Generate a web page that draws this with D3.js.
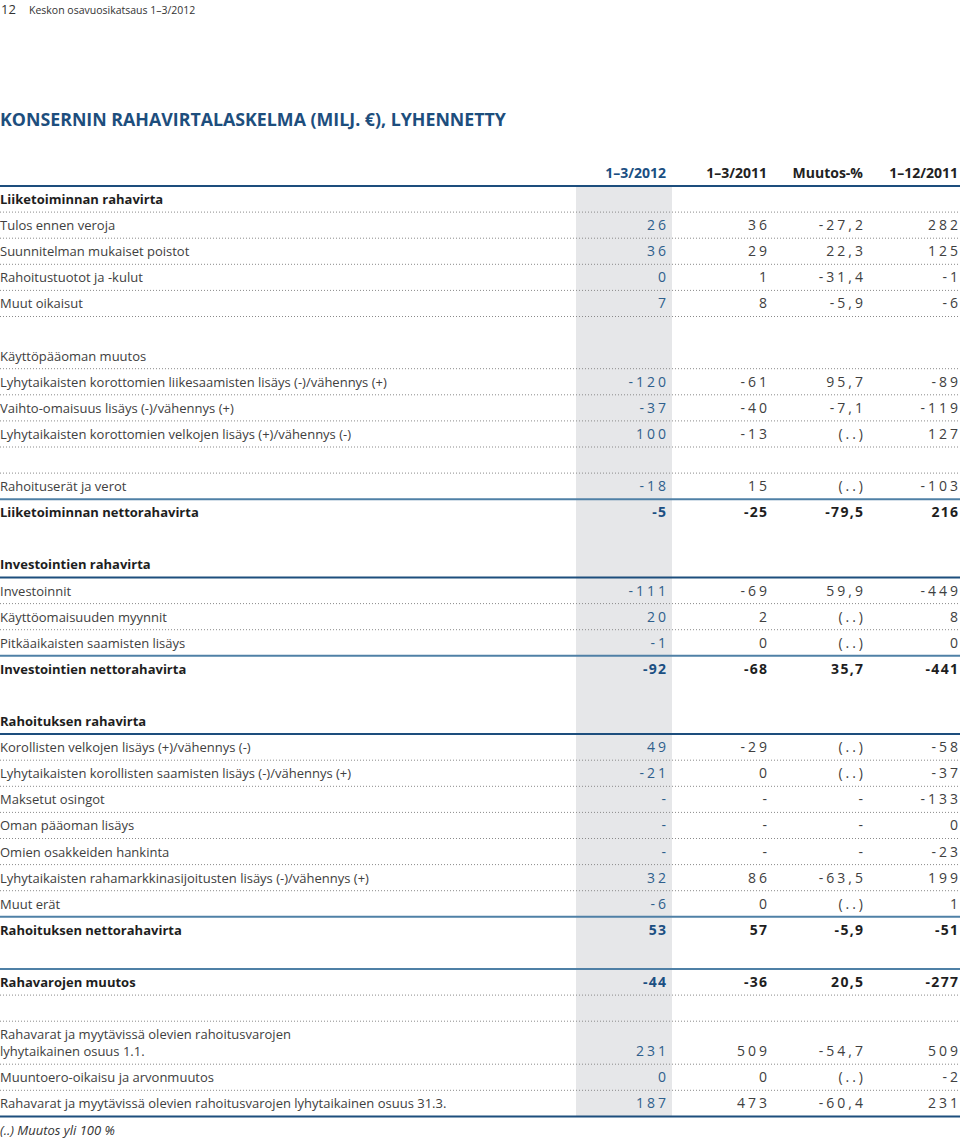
<!DOCTYPE html>
<html><head><meta charset="utf-8">
<script src="https://cdn.jsdelivr.net/npm/d3@7/dist/d3.min.js"></script>
<style>
html,body{margin:0;padding:0;background:#fff;}
svg{display:block;}
</style></head>
<body>
<script>
// ---------- DATA ----------
const pageNo = "12";
const pageTitle = "Keskon osavuosikatsaus 1–3/2012";
const tableTitle = "KONSERNIN RAHAVIRTALASKELMA (MILJ. €), LYHENNETTY";
const columnHeaders = ["1–3/2012", "1–3/2011", "Muutos-%", "1–12/2011"];
const footnote = "(..) Muutos yli 100 %";

const labels = [
  "Liiketoiminnan rahavirta",
  "Tulos ennen veroja",
  "Suunnitelman mukaiset poistot",
  "Rahoitustuotot ja -kulut",
  "Muut oikaisut",
  "",
  "Käyttöpääoman muutos",
  "Lyhytaikaisten korottomien liikesaamisten lisäys (-)/vähennys (+)",
  "Vaihto-omaisuus lisäys (-)/vähennys (+)",
  "Lyhytaikaisten korottomien velkojen lisäys (+)/vähennys (-)",
  "",
  "Rahoituserät ja verot",
  "Liiketoiminnan nettorahavirta",
  "",
  "Investointien rahavirta",
  "Investoinnit",
  "Käyttöomaisuuden myynnit",
  "Pitkäaikaisten saamisten lisäys",
  "Investointien nettorahavirta",
  "",
  "Rahoituksen rahavirta",
  "Korollisten velkojen lisäys (+)/vähennys (-)",
  "Lyhytaikaisten korollisten saamisten lisäys (-)/vähennys (+)",
  "Maksetut osingot",
  "Oman pääoman lisäys",
  "Omien osakkeiden hankinta",
  "Lyhytaikaisten rahamarkkinasijoitusten lisäys (-)/vähennys (+)",
  "Muut erät",
  "Rahoituksen nettorahavirta",
  "",
  "Rahavarojen muutos",
  "",
  "Rahavarat ja myytävissä olevien rahoitusvarojen|lyhytaikainen osuus 1.1.",
  "Muuntoero-oikaisu ja arvonmuutos",
  "Rahavarat ja myytävissä olevien rahoitusvarojen lyhytaikainen osuus 31.3."
];
// kind: s = section heading, i = item, t = total, b = blank
const kinds = ["s","i","i","i","i","b","i","i","i","i","b","i","t","b","s","i","i","i","t","b","s","i","i","i","i","i","i","i","t","b","t","b","i","i","i"];
// rule drawn under each row: d = dotted, m = main solid, u = subtotal solid, "" = none
const rulesBelow = ["d","d","d","d","d","","d","d","d","d","d","u","","","m","d","d","u","","","m","d","d","d","d","d","d","u","","u","d","d","d","d","m"];

const q1_2012 = ["","26","36","0","7","","","-120","-37","100","","-18","-5","","","-111","20","-1","-92","","","49","-21","-","-","-","32","-6","53","","-44","","231","0","187"];
const q1_2011 = ["","36","29","1","8","","","-61","-40","-13","","15","-25","","","-69","2","0","-68","","","-29","0","-","-","-","86","0","57","","-36","","509","0","473"];
const changePct = ["","-27,2","22,3","-31,4","-5,9","","","95,7","-7,1","(..)","","(..)","-79,5","","","59,9","(..)","(..)","35,7","","","(..)","(..)","-","-","-","-63,5","(..)","-5,9","","20,5","","-54,7","(..)","-60,4"];
const fy_2011 = ["","282","125","-1","-6","","","-89","-119","127","","-103","216","","","-449","8","0","-441","","","-58","-37","-133","0","-23","199","1","-51","","-277","","509","-2","231"];

// ---------- LAYOUT ----------
const W = 960, H = 1139;
const tableTop = 186;
const rowH = 26.1, doubleRowH = 43;
const FONT = "'Open Sans', 'DejaVu Sans', sans-serif";
const DARK = "#1d4e7d", SUB = "#4f80a6", TXT = "#404040", VAL1 = "#2f5f8c", BOLD1 = "#1b4f82";

const rows = labels.map((l, i) => ({
  label: l, kind: kinds[i], rule: rulesBelow[i],
  vals: [q1_2012[i], q1_2011[i], changePct[i], fy_2011[i]],
  h: l.includes("|") ? doubleRowH : rowH
}));
const cum = d3.cumsum(rows, d => d.h);
rows.forEach((r, i) => { r.y1 = tableTop + cum[i]; r.y0 = r.y1 - r.h; });
const tableBottom = rows[rows.length - 1].y1;

const colX = d3.scaleOrdinal().domain(d3.range(4)).range([666, 767, 863, 958]);

const svg = d3.select("body").append("svg").attr("width", W).attr("height", H)
  .style("font-family", FONT);

// page header
svg.append("text").attr("x", 1).attr("y", 14).attr("font-size", 13).attr("fill", "#333").text(pageNo);
svg.append("text").attr("x", 29).attr("y", 14).attr("font-size", 10.5).attr("fill", "#333").text(pageTitle);
svg.append("text").attr("x", 0).attr("y", 126).attr("font-size", 17.8).attr("font-weight", 700)
  .attr("fill", DARK).text(tableTitle);

// grey highlight column
svg.append("rect").attr("x", 576).attr("y", tableTop + 1).attr("width", 96)
  .attr("height", tableBottom - tableTop - 1).attr("fill", "#e6e7e9");

// column headers
svg.selectAll("text.colh").data(columnHeaders).join("text").attr("class", "colh")
  .attr("x", (d, i) => colX(i)).attr("y", 178).attr("text-anchor", "end")
  .attr("font-size", 14).attr("font-weight", 700)
  .attr("fill", (d, i) => i === 0 ? BOLD1 : "#222").text(d => d);

// header rule
svg.append("line").attr("x1", 0).attr("x2", W).attr("y1", tableTop).attr("y2", tableTop)
  .attr("stroke", DARK).attr("stroke-width", 2);

// row rules
const ruled = rows.filter(r => r.rule);
svg.selectAll("line.rule").data(ruled).join("line").attr("class", "rule")
  .attr("x1", 0).attr("x2", W).attr("y1", d => d.y1).attr("y2", d => d.y1)
  .attr("stroke", d => d.rule === "d" ? "#8a8a8a" : d.rule === "m" ? DARK : SUB)
  .attr("stroke-width", d => d.rule === "d" ? 1 : 2)
  .attr("stroke-dasharray", d => d.rule === "d" ? "1,2" : null);

// labels and values
const labelG = svg.selectAll("g.row").data(rows.filter(r => r.label)).join("g").attr("class", "row");
labelG.each(function(r) {
  const g = d3.select(this);
  const parts = r.label.split("|");
  const bold = r.kind === "s" || r.kind === "t";
  const lineH = 16.5;
  const base = (r.y0 + r.y1) / 2 + 5 - (parts.length - 1) * lineH / 2;
  parts.forEach((p, k) => {
    g.append("text").attr("x", 0).attr("y", base + k * lineH)
      .attr("font-size", 13).attr("font-weight", bold ? 700 : 400)
      .attr("fill", bold ? "#1e1e1e" : TXT).text(p);
  });
  r.valY = base + (parts.length - 1) * lineH;
  const ls = bold ? 1.3 : 3;
  r.vals.forEach((v, c) => {
    if (!v) return;
    g.append("text").attr("x", colX(c) + ls).attr("y", r.valY).attr("text-anchor", "end")
      .attr("font-size", 14).attr("font-weight", bold ? 700 : 400)
      .attr("letter-spacing", ls)
      .attr("fill", c === 0 ? (bold ? BOLD1 : VAL1) : (bold ? "#1e1e1e" : TXT))
      .text(v);
  });
});

// footnote
svg.append("text").attr("x", 0).attr("y", 1135).attr("font-size", 13).attr("font-style", "italic")
  .attr("fill", "#333").text(footnote);
</script>
</body></html>
